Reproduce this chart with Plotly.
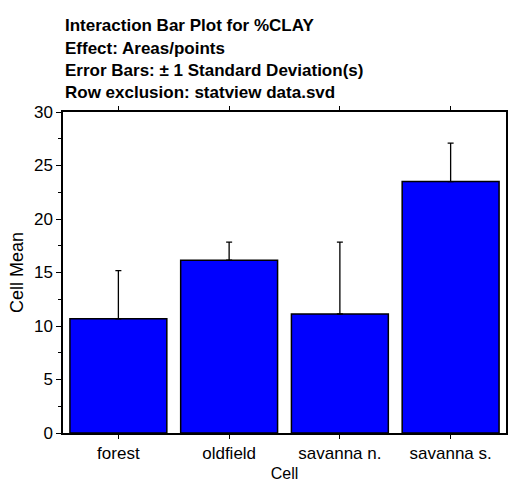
import plotly.graph_objects as go

categories = ["forest", "oldfield", "savanna n.", "savanna s."]
means = [10.67, 16.15, 11.12, 23.5]
std_devs = [4.5, 1.69, 6.72, 3.6]
title_lines = [
    "Interaction Bar Plot for %CLAY",
    "Effect: Areas/points",
    "Error Bars: ± 1 Standard Deviation(s)",
    "Row exclusion: statview data.svd",
]
y_ticks = [0, 5, 10, 15, 20, 25, 30]

FONT = "Liberation Sans, Arial, sans-serif"

fig = go.Figure()
fig.add_trace(go.Bar(
    x=categories,
    y=means,
    width=0.875,
    marker=dict(color="#0000FF", line=dict(color="black", width=1.5)),
    error_y=dict(type="data", array=std_devs, arrayminus=[0] * len(std_devs),
                 symmetric=False, color="black", thickness=1.3, width=3),
))

annotations = []
line_y_px = [25, 48, 70.5, 92]
plot_top, plot_h = 112, 321
for txt, ypx in zip(title_lines, line_y_px):
    annotations.append(dict(
        text="<b>" + txt + "</b>", xref="paper", yref="paper",
        x=0, y=1 + (plot_top - ypx) / plot_h, xanchor="left", yanchor="middle",
        showarrow=False, font=dict(family=FONT, size=17, color="black"),
    ))

fig.update_layout(
    width=508, height=485,
    margin=dict(l=63, r=2, t=112, b=52),
    paper_bgcolor="white", plot_bgcolor="white",
    showlegend=False,
    bargap=0.125,
    annotations=annotations,
    font=dict(family=FONT, color="black"),
)
fig.update_xaxes(
    automargin=False,
    showline=True, linecolor="black", linewidth=1.5, mirror="allticks",
    ticks="outside", ticklen=4, tickcolor="black", tickwidth=1,
    tickfont=dict(size=17, family=FONT),
    title=dict(text="Cell", font=dict(size=16, family=FONT), standoff=6),
    showgrid=False,
)
fig.update_yaxes(
    automargin=False,
    range=[0, 30], tickvals=y_ticks,
    showline=True, linecolor="black", linewidth=1.5, mirror="allticks",
    ticks="outside", ticklen=5, tickcolor="black", tickwidth=1,
    minor=dict(dtick=2.5, ticks="outside", ticklen=3, tickcolor="black", tickwidth=1),
    tickfont=dict(size=17, family=FONT),
    title=dict(text="Cell Mean", font=dict(size=18, family=FONT), standoff=6),
    showgrid=False, zeroline=False,
)

fig.write_html("out.html")
